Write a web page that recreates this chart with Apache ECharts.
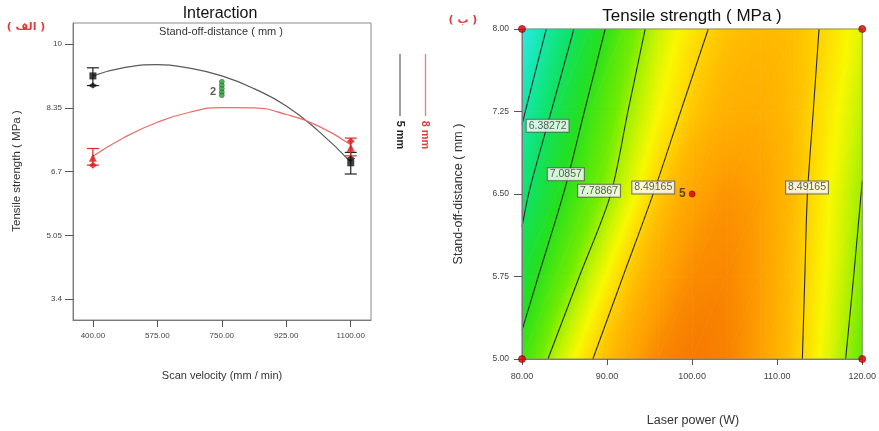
<!DOCTYPE html>
<html><head><meta charset="utf-8">
<script src="https://cdn.jsdelivr.net/npm/echarts@6/dist/echarts.min.js"></script>
<style>html,body{margin:0;padding:0;background:#fff}#c{width:879px;height:431px}</style>
</head><body><div id="c"></div>
<script>
// ---------- Left panel: interaction plot ----------
const scanVelocity = [400, 487.5, 575, 662.5, 750, 837.5, 925, 1012.5, 1100];
const curve5mm = [9.18, 9.40, 9.47, 9.38, 9.18, 8.85, 8.40, 7.75, 6.95];
const curve8mm = [7.10, 7.60, 7.98, 8.24, 8.36, 8.35, 8.18, 7.88, 7.40];
const designX = [400, 1100];
const squares5mm = [9.18, 6.93];
const diamonds5mm = [8.93, 7.04];
const triangles8mm = [7.06, 7.32];
const diamonds8mm = [6.87, 7.49];
const errLow5mm = [8.93, 6.64];
const errHigh5mm = [9.39, 7.20];
const errLow8mm = [6.87, 7.11];
const errHigh8mm = [7.30, 7.57];
const centerVelocity = 750;
const centerPointsLeft = [9.03, 8.94, 8.85, 8.76, 8.68];
const leftXTicks = [400, 575, 750, 925, 1100];
const leftYTicks = [3.4, 5.05, 6.7, 8.35, 10];

// ---------- Right panel: contour plot ----------
const laserPower = [80, 84, 88, 92, 96, 100, 104, 108, 112, 116, 120];
const standOff = [5, 5.75, 6.5, 7.25, 8];
const strengthGrid = [
  [7.22, 7.92, 8.45, 8.83, 9.07, 9.16, 9.11, 8.92, 8.58, 8.07, 7.52],
  [6.76, 7.39, 7.96, 8.50, 8.86, 9.04, 9.07, 8.93, 8.62, 8.16, 7.67],
  [6.15, 6.93, 7.48, 8.01, 8.55, 8.87, 8.99, 8.92, 8.65, 8.22, 7.78],
  [5.59, 6.49, 7.18, 7.73, 8.19, 8.57, 8.77, 8.79, 8.64, 8.32, 7.91],
  [4.96, 5.94, 6.76, 7.44, 7.97, 8.36, 8.60, 8.68, 8.63, 8.42, 8.06]
];
const contour568 = [[82.86, 8.0], [81.43, 7.57], [80, 7.13]];
const contour638 = [[86.10, 8.0], [83.43, 7.25], [80.90, 6.54], [80, 6.20]];
const contour709 = [[89.78, 8.0], [87.33, 7.25], [85.01, 6.54], [81.91, 5.75], [80, 5.26]];
const contour779a = [[94.48, 8.0], [92.45, 7.25], [90.40, 6.49], [86.74, 5.75], [83.05, 5.0]];
const contour849a = [[101.90, 8.0], [98.65, 7.25], [95.37, 6.49], [91.87, 5.75], [88.33, 5.0]];
const contour849b = [[114.92, 8.0], [114.24, 7.25], [113.55, 6.49], [113.25, 5.75], [112.96, 5.0]];
const contour779b = [[120, 6.62], [118.99, 5.75], [118.05, 5.0]];
const contourLabels = [
  [83.01, 7.12, '6.38272'],
  [85.15, 6.68, '7.0857'],
  [89.06, 6.53, '7.78867'],
  [95.43, 6.56, '8.49165'],
  [113.51, 6.56, '8.49165']
];
const cornerPoints = [[80, 5], [80, 8], [120, 5], [120, 8]];
const centerPointRight = [[100, 6.5, '5']];

// ---------- helpers ----------
const FONT = 'Liberation Sans, Arial, sans-serif';
const cmap = [
  [4.9, [50, 232, 236]], [5.6, [20, 232, 170]], [6.3, [16, 226, 100]], [7.0, [36, 224, 30]],
  [7.6, [112, 236, 0]], [8.0, [208, 244, 0]], [8.2, [248, 248, 0]], [8.45, [255, 216, 0]],
  [8.65, [255, 188, 0]], [8.9, [255, 162, 0]], [9.1, [248, 130, 0]], [9.25, [242, 108, 0]]
];
function colorAt(v) {
  if (v <= cmap[0][0]) return 'rgb(' + cmap[0][1].join(',') + ')';
  for (let i = 1; i < cmap.length; i++) {
    if (v <= cmap[i][0]) {
      const a = cmap[i - 1], b = cmap[i], t = (v - a[0]) / (b[0] - a[0]);
      const c = a[1].map((x, k) => Math.round(x + (b[1][k] - x) * t));
      return 'rgb(' + c.join(',') + ')';
    }
  }
  return 'rgb(' + cmap[cmap.length - 1][1].join(',') + ')';
}
function triShape(P, V) {
  const e1x = P[1][0] - P[0][0], e1y = P[1][1] - P[0][1];
  const e2x = P[2][0] - P[0][0], e2y = P[2][1] - P[0][1];
  const d1 = V[1] - V[0], d2 = V[2] - V[0];
  const det = e1x * e2y - e1y * e2x;
  const gx = (d1 * e2y - d2 * e1y) / det, gy = (e1x * d2 - e2x * d1) / det;
  const gm = Math.hypot(gx, gy);
  const vlo = Math.min.apply(null, V), vhi = Math.max.apply(null, V);
  let fill;
  if (!isFinite(gm) || gm < 1e-9 || vhi - vlo < 1e-6) {
    fill = colorAt((vlo + vhi) / 2);
  } else {
    const ux = gx / gm, uy = gy / gm;
    const s = (vlo - V[0]) / gm, t = (vhi - V[0]) / gm;
    const stops = [{offset: 0, color: colorAt(vlo)}];
    cmap.forEach(c => { if (c[0] > vlo && c[0] < vhi) stops.push({offset: (c[0] - vlo) / (vhi - vlo), color: colorAt(c[0])}); });
    stops.push({offset: 1, color: colorAt(vhi)});
    fill = new echarts.graphic.LinearGradient(P[0][0] + ux * s, P[0][1] + uy * s, P[0][0] + ux * t, P[0][1] + uy * t, stops, true);
  }
  return {type: 'polygon', shape: {points: P}, style: {fill: fill, stroke: fill, lineWidth: 0.7}};
}

const cells = [];
for (let j = 0; j < standOff.length - 1; j++) {
  for (let i = 0; i < laserPower.length - 1; i++) {
    cells.push([laserPower[i], standOff[j], laserPower[i + 1], standOff[j + 1],
      strengthGrid[j][i], strengthGrid[j][i + 1], strengthGrid[j + 1][i], strengthGrid[j + 1][i + 1]]);
  }
}
const zip = (xs, ys) => xs.map((x, i) => [x, ys[i]]);
const errData5 = designX.map((x, i) => [x, errLow5mm[i], errHigh5mm[i]]);
const errData8 = designX.map((x, i) => [x, errLow8mm[i], errHigh8mm[i]]);
function errRender(color) {
  return function (params, api) {
    const x = api.value(0);
    const lo = api.coord([x, api.value(1)]), hi = api.coord([x, api.value(2)]);
    const w = 6;
    const st = {stroke: color, lineWidth: 1.2};
    return {type: 'group', children: [
      {type: 'line', shape: {x1: lo[0], y1: lo[1], x2: hi[0], y2: hi[1]}, style: st},
      {type: 'line', shape: {x1: lo[0] - w, y1: lo[1], x2: lo[0] + w, y2: lo[1]}, style: st},
      {type: 'line', shape: {x1: hi[0] - w, y1: hi[1], x2: hi[0] + w, y2: hi[1]}, style: st}
    ]};
  };
}
const axisTextStyle = {color: '#444', fontSize: 8, fontFamily: FONT};
const contourLine = (data) => ({
  type: 'line', xAxisIndex: 1, yAxisIndex: 1, data: data, symbol: 'none', smooth: 0.3,
  lineStyle: {color: '#2a2a2a', width: 1.1}, z: 3, silent: true
});

const chart = echarts.init(document.getElementById('c'), null, {renderer: 'canvas'});
chart.setOption({
  animation: false,
  backgroundColor: '#fff',
  grid: [
    {left: 73, top: 23, width: 298, height: 297, show: true, borderColor: '#8a8a8a', borderWidth: 1, backgroundColor: 'transparent'},
    {left: 522, top: 29, width: 341, height: 330, show: true, borderColor: '#8a8a8a', borderWidth: 1, backgroundColor: 'transparent', z: 10}
  ],
  xAxis: [
    {type: 'value', gridIndex: 0, min: 346, max: 1155,
     axisLine: {lineStyle: {color: '#7a7a7a'}},
     axisTick: {length: 7, customValues: leftXTicks, lineStyle: {color: '#555'}},
     axisLabel: Object.assign({customValues: leftXTicks, margin: 12, formatter: v => v.toFixed(2)}, axisTextStyle),
     splitLine: {show: false}},
    {type: 'value', gridIndex: 1, min: 80, max: 120, interval: 10,
     axisLine: {lineStyle: {color: '#7a7a7a'}},
     axisTick: {length: 6, lineStyle: {color: '#555'}},
     axisLabel: Object.assign({margin: 13, formatter: v => v.toFixed(2)}, axisTextStyle, {fontSize: 9}),
     splitLine: {show: false}, z: 10}
  ],
  yAxis: [
    {type: 'value', gridIndex: 0, min: 2.86, max: 10.55,
     axisLine: {show: true, lineStyle: {color: '#7a7a7a'}},
     axisTick: {show: true, length: 8, customValues: leftYTicks, lineStyle: {color: '#555'}},
     axisLabel: Object.assign({customValues: leftYTicks, margin: 11, formatter: v => String(v)}, axisTextStyle),
     splitLine: {show: false}},
    {type: 'value', gridIndex: 1, min: 5, max: 8, interval: 0.75,
     axisLine: {show: true, lineStyle: {color: '#7a7a7a'}},
     axisTick: {show: true, length: 8, lineStyle: {color: '#555'}},
     axisLabel: Object.assign({margin: 13, formatter: v => v.toFixed(2)}, axisTextStyle, {fontSize: 8.5}),
     splitLine: {show: false}, z: 10}
  ],
  series: [
    // left panel
    {type: 'line', name: '5 mm', xAxisIndex: 0, yAxisIndex: 0, data: zip(scanVelocity, curve5mm), smooth: true, symbol: 'none', lineStyle: {color: '#5a5a5a', width: 1.2}, z: 2},
    {type: 'line', name: '8 mm', xAxisIndex: 0, yAxisIndex: 0, data: zip(scanVelocity, curve8mm), smooth: true, symbol: 'none', lineStyle: {color: '#f06a6a', width: 1.2}, z: 2},
    {type: 'custom', xAxisIndex: 0, yAxisIndex: 0, data: errData5, renderItem: errRender('#222'), encode: {x: 0, y: [1, 2]}, z: 3},
    {type: 'custom', xAxisIndex: 0, yAxisIndex: 0, data: errData8, renderItem: errRender('#e02828'), encode: {x: 0, y: [1, 2]}, z: 3},
    {type: 'scatter', xAxisIndex: 0, yAxisIndex: 0, data: zip(designX, diamonds5mm), symbol: 'diamond', symbolSize: [9, 6], itemStyle: {color: '#111'}, z: 4},
    {type: 'scatter', xAxisIndex: 0, yAxisIndex: 0, data: zip(designX, squares5mm), symbol: 'rect', symbolSize: 7, itemStyle: {color: '#111'}, z: 5},
    {type: 'scatter', xAxisIndex: 0, yAxisIndex: 0, data: zip(designX, diamonds8mm), symbol: 'diamond', symbolSize: [8, 7], itemStyle: {color: '#e01818'}, z: 4},
    {type: 'scatter', xAxisIndex: 0, yAxisIndex: 0, data: zip(designX, triangles8mm), symbol: 'triangle', symbolSize: 8, itemStyle: {color: '#d81818'}, z: 5},
    {type: 'scatter', xAxisIndex: 0, yAxisIndex: 0,
     data: centerPointsLeft.map((v, i) => ({value: [centerVelocity, v], label: i === 3 ? {show: true, formatter: '2', position: 'left', distance: 3, color: '#333', fontSize: 11, fontWeight: 'bold', fontFamily: FONT} : {show: false}})),
     symbol: 'circle', symbolSize: 5, itemStyle: {color: '#2e9e3a', borderColor: '#1b6b24', borderWidth: 0.6}, z: 5},
    // right panel
    {type: 'custom', xAxisIndex: 1, yAxisIndex: 1, data: cells, encode: {x: [0, 2], y: [1, 3]}, z: 1, silent: true,
     renderItem: function (params, api) {
       const p00 = api.coord([api.value(0), api.value(1)]), p10 = api.coord([api.value(2), api.value(1)]);
       const p01 = api.coord([api.value(0), api.value(3)]), p11 = api.coord([api.value(2), api.value(3)]);
       const v00 = api.value(4), v10 = api.value(5), v01 = api.value(6), v11 = api.value(7);
       return {type: 'group', children: [triShape([p00, p10, p11], [v00, v10, v11]), triShape([p00, p11, p01], [v00, v11, v01])]};
     }},
    contourLine(contour568), contourLine(contour638), contourLine(contour709), contourLine(contour779a),
    contourLine(contour849a), contourLine(contour849b), contourLine(contour779b),
    {type: 'scatter', xAxisIndex: 1, yAxisIndex: 1, data: contourLabels, symbolSize: 0, z: 6, silent: true,
     label: {show: true, position: 'inside', formatter: p => p.value[2], color: '#333', fontSize: 10.5, fontFamily: FONT,
             backgroundColor: '#fff', borderColor: '#555', borderWidth: 1, padding: [1, 2, 0, 2]}},
    {type: 'scatter', xAxisIndex: 1, yAxisIndex: 1, data: cornerPoints, symbol: 'circle', symbolSize: 7, clip: false,
     itemStyle: {color: '#d40000', borderColor: '#7a0000', borderWidth: 0.8}, z: 12},
    {type: 'scatter', xAxisIndex: 1, yAxisIndex: 1, data: centerPointRight, symbol: 'circle', symbolSize: 6,
     itemStyle: {color: '#d40000', borderColor: '#7a0000', borderWidth: 0.8}, z: 7,
     label: {show: true, position: 'left', distance: 3, formatter: p => p.value[2], color: '#3a2a10', fontSize: 12, fontWeight: 'bold', fontFamily: FONT}}
  ],
  graphic: [
    {type: 'text', x: 220, y: 14, style: {text: 'Interaction', font: '16px ' + FONT, fill: '#111', align: 'center', verticalAlign: 'middle'}},
    {type: 'text', x: 221, y: 32, style: {text: 'Stand-off-distance ( mm )', font: '11px ' + FONT, fill: '#333', align: 'center', verticalAlign: 'middle'}},
    {type: 'text', x: 17, y: 171, rotation: Math.PI / 2, style: {text: 'Tensile strength ( MPa )', font: '11.5px ' + FONT, fill: '#333', align: 'center', verticalAlign: 'middle'}},
    {type: 'text', x: 222, y: 376, style: {text: 'Scan velocity (mm / min)', font: '11px ' + FONT, fill: '#333', align: 'center', verticalAlign: 'middle'}},
    {type: 'text', x: 26, y: 27, style: {text: '( الف )', font: 'bold 11px DejaVu Sans, sans-serif', fill: '#e23a3a', align: 'center', verticalAlign: 'middle'}},
    {type: 'line', shape: {x1: 400, y1: 54, x2: 400, y2: 116}, style: {stroke: '#6a6a6a', lineWidth: 1.3}},
    {type: 'line', shape: {x1: 425.5, y1: 54, x2: 425.5, y2: 116}, style: {stroke: '#f07878', lineWidth: 1.3}},
    {type: 'text', x: 400, y: 135, rotation: -Math.PI / 2, style: {text: '5 mm', font: 'bold 11px ' + FONT, fill: '#222', align: 'center', verticalAlign: 'middle'}},
    {type: 'text', x: 425.5, y: 135, rotation: -Math.PI / 2, style: {text: '8 mm', font: 'bold 11px ' + FONT, fill: '#e23a3a', align: 'center', verticalAlign: 'middle'}},
    {type: 'text', x: 692, y: 16, style: {text: 'Tensile strength ( MPa )', font: '17px ' + FONT, fill: '#111', align: 'center', verticalAlign: 'middle'}},
    {type: 'text', x: 459, y: 194, rotation: Math.PI / 2, style: {text: 'Stand-off-distance ( mm )', font: '12.5px ' + FONT, fill: '#333', align: 'center', verticalAlign: 'middle'}},
    {type: 'text', x: 693, y: 421, style: {text: 'Laser power (W)', font: '12.5px ' + FONT, fill: '#333', align: 'center', verticalAlign: 'middle'}},
    {type: 'text', x: 463, y: 20, style: {text: '( ب )', font: 'bold 11px DejaVu Sans, sans-serif', fill: '#e23a3a', align: 'center', verticalAlign: 'middle'}}
  ]
});
</script>
</body></html>
